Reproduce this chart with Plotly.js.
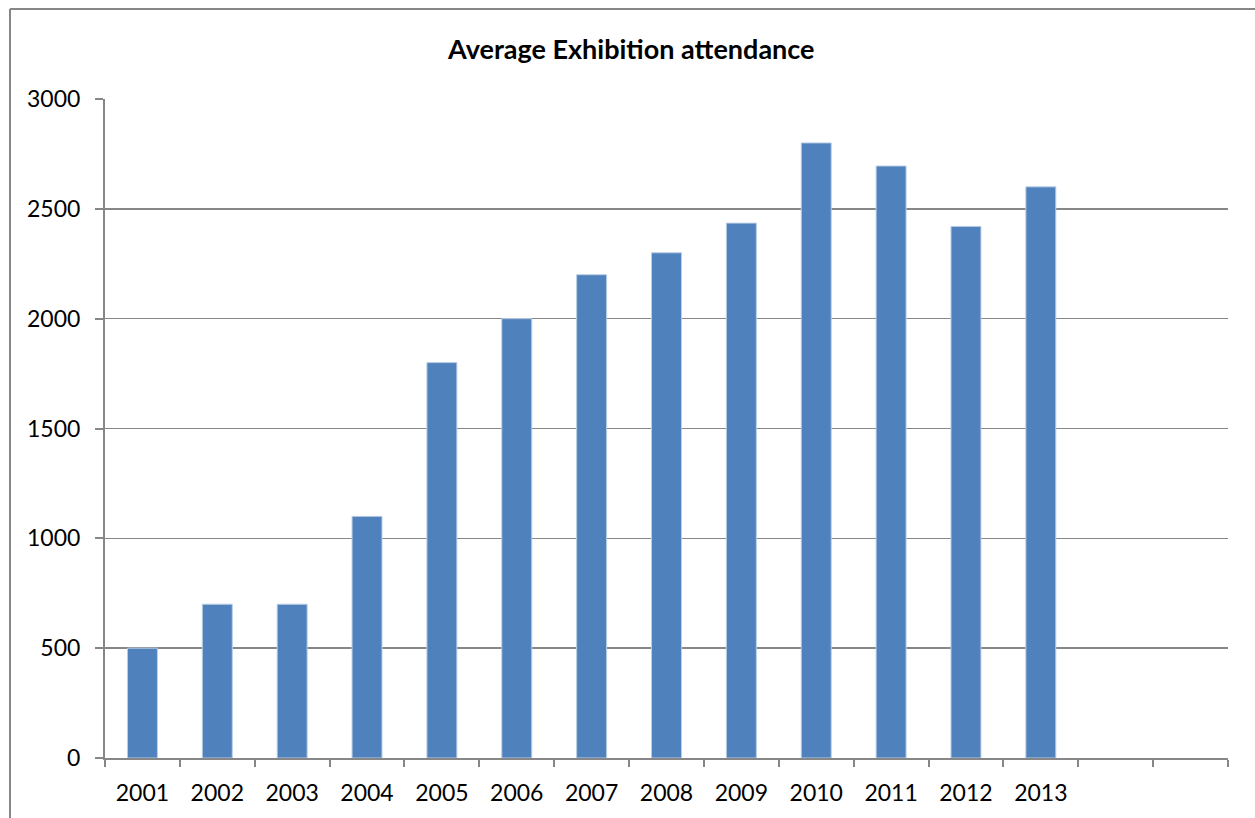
<!DOCTYPE html>
<html>
<head>
<meta charset="utf-8">
<script src="https://cdn.plot.ly/plotly-3.0.1.min.js"></script>
<style>html,body{margin:0;padding:0;background:#fff;}#chart{width:1255px;height:818px;}</style>
</head>
<body>
<div id="chart"></div>
<script>
var categories = ["2001","2002","2003","2004","2005","2006","2007","2008","2009","2010","2011","2012","2013"," ","  "];
var attendance = [500,700,700,1100,1800,2000,2200,2300,2435,2800,2695,2420,2600,null,null];
var yTicks = [0,500,1000,1500,2000,2500,3000];

var trace = {
  type: "bar",
  x: categories,
  y: attendance,
  width: 0.4,
  marker: {color: "#4F81BD", line: {color: "#B9CDE5", width: 1}},
  hoverinfo: "x+y"
};

var layout = {
  width: 1255, height: 818,
  margin: {l: 105, r: 27, t: 99, b: 60},
  paper_bgcolor: "#fff", plot_bgcolor: "#fff",
  showlegend: false,
  title: {text: "<b>Average Exhibition attendance</b>", x: 0.503, xanchor: "center", y: 0.94, yanchor: "middle",
          font: {family: "Lato, 'Open Sans', sans-serif", size: 27, color: "#000"}},
  font: {family: "Lato, 'Open Sans', sans-serif", size: 23, color: "#000"},
  xaxis: {
    type: "category", categoryorder: "array", categoryarray: categories,
    range: [-0.5, 14.5],
    tickson: "boundaries", ticks: "outside", ticklen: 7, tickwidth: 2, tickcolor: "#878787",
    showline: true, linecolor: "#878787", linewidth: 2,
    showgrid: false, zeroline: false,
    tickfont: {size: 23}, ticklabelstandoff: 13
  },
  yaxis: {
    range: [0, 3000], tickvals: yTicks, ticktext: yTicks.map(String),
    ticks: "outside", ticklen: 8, tickwidth: 2, tickcolor: "#878787",
    showline: true, linecolor: "#878787", linewidth: 2,
    showgrid: true, gridcolor: "#878787", gridwidth: 1.5,
    zeroline: false, tickfont: {size: 23}, ticklabelstandoff: 10
  },
  shapes: [
    {type: "line", xref: "paper", yref: "paper", x0: -0.0846, x1: -0.0846, y0: 1.1366, y1: -0.2, line: {color: "#878787", width: 2}},
    {type: "line", xref: "paper", yref: "paper", x0: -0.0846, x1: 1.2, y0: 1.1366, y1: 1.1366, line: {color: "#878787", width: 2}}
  ]
};

Plotly.newPlot("chart", [trace], layout, {displayModeBar: false, staticPlot: true});
</script>
</body>
</html>
